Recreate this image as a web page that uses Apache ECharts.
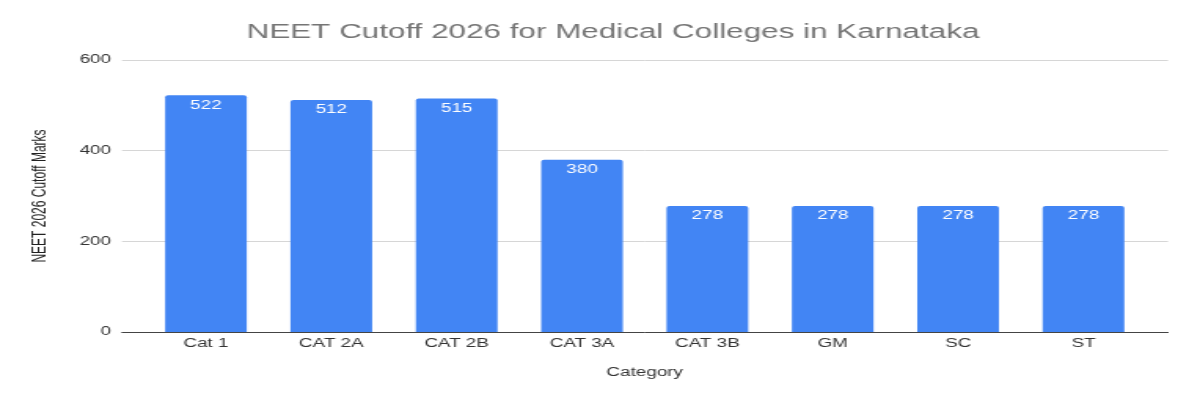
<!DOCTYPE html>
<html>
<head>
<meta charset="utf-8">
<script src="https://cdn.jsdelivr.net/npm/echarts@6/dist/echarts.min.js"></script>
<style>
  html, body { margin: 0; padding: 0; background: #fff; overflow: hidden; }
  #wrap { width: 1200px; height: 400px; overflow: hidden; }
  #chart { width: 764px; height: 400px; transform: scaleX(1.570681); transform-origin: 0 0; }
</style>
</head>
<body>
<div id="wrap"><div id="chart"></div></div>
<script>
const titleText = 'NEET Cutoff 2026 for Medical Colleges in Karnataka';
const categories = ['Cat 1', 'CAT 2A', 'CAT 2B', 'CAT 3A', 'CAT 3B', 'GM', 'SC', 'ST'];
const cutoffs = [522, 512, 515, 380, 278, 278, 278, 278];
const yAxisName = 'NEET 2026 Cutoff Marks';
const xAxisName = 'Category';
const yMin = 0, yMax = 600, yStep = 200;

const FONT = '"Liberation Sans", Arial, sans-serif';
const chart = echarts.init(document.getElementById('chart'));
chart.setOption({
  animation: false,
  backgroundColor: '#ffffff',
  textStyle: { fontFamily: FONT },
  title: {
    text: titleText,
    left: 152,
    top: 17,
    textStyle: { fontFamily: FONT, fontSize: 20, fontWeight: 'normal', color: '#757575' }
  },
  grid: [
    { left: 77.7, right: 20.4, top: 60, bottom: 68 },
    { left: 91.2, right: 34.3, top: 60, bottom: 68 }
  ],
  xAxis: [
    {
      gridIndex: 0, type: 'value', min: 0, max: 1,
      axisLine: { show: true, lineStyle: { color: '#444', width: 1 } },
      axisTick: { show: false }, axisLabel: { show: false }, splitLine: { show: false }
    },
    {
      gridIndex: 1, type: 'category', data: categories,
      name: xAxisName, nameLocation: 'middle', nameGap: 35,
      nameTextStyle: { fontFamily: FONT, fontSize: 12, color: '#333' },
      axisLine: { show: false }, axisTick: { show: false },
      axisLabel: { fontFamily: FONT, fontSize: 12, color: '#333', margin: 6 }
    }
  ],
  yAxis: [
    {
      gridIndex: 0, type: 'value', min: yMin, max: yMax, interval: yStep,
      name: yAxisName, nameLocation: 'middle', nameGap: 46, nameRotate: 90,
      nameTextStyle: { fontFamily: FONT, fontSize: 12, color: '#222' },
      axisLine: { show: false }, axisTick: { show: false },
      axisLabel: { fontFamily: FONT, fontSize: 12, color: '#333', margin: 7 },
      splitLine: { lineStyle: { color: '#d6d6d6', width: 1 } }
    },
    {
      gridIndex: 1, type: 'value', min: yMin, max: yMax, interval: yStep, show: false,
      splitLine: { show: false }
    }
  ],
  series: [{
    type: 'bar',
    xAxisIndex: 1, yAxisIndex: 1,
    data: cutoffs,
    barWidth: 52,
    itemStyle: { color: '#4285F4', borderRadius: [2, 2, 0, 0] },
    label: {
      show: true, position: 'insideTop', distance: 4,
      fontFamily: FONT, fontSize: 12, color: '#ffffff'
    }
  }]
});
</script>
</body>
</html>
